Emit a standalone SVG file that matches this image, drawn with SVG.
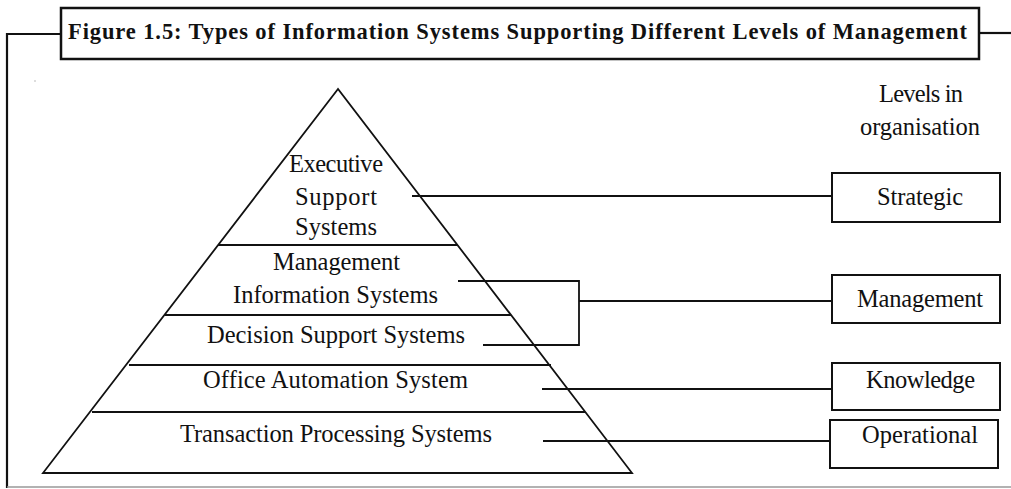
<svg xmlns="http://www.w3.org/2000/svg" width="1011" height="489" viewBox="0 0 1011 489">
<style>
.t{font-family:"Liberation Serif","Times New Roman",serif;font-size:24.5px;fill:#111}
.tb{font-family:"Liberation Serif","Times New Roman",serif;font-size:22.5px;font-weight:bold;fill:#111}
.ln{stroke:#111;stroke-width:1.8;fill:none}
.box{stroke:#111;stroke-width:2;fill:#fff}
.frame{stroke:#111;stroke-width:2.2;fill:none}
</style>
<rect width="1011" height="489" fill="#fff"/>
<g id="frame">
<polyline class="frame" points="61,34 7,34 7,488"/>
<line class="frame" x1="979" y1="33" x2="1011" y2="33"/>
<line x1="7" y1="487" x2="1011" y2="487" stroke="#999" stroke-width="1.5"/>
<rect x="34.5" y="80.5" width="1" height="1" fill="#777"/>
</g>
<g id="title">
<rect x="61" y="8" width="918" height="51" fill="#fff" stroke="#111" stroke-width="2.5"/>
<text class="tb" x="68" y="39" textLength="899" lengthAdjust="spacing">Figure 1.5: Types of Information Systems Supporting Different Levels of Management</text>
</g>
<g id="pyramid">
<polygon class="ln" points="338,89 43,473 632,473"/>
<line class="ln" x1="218" y1="245" x2="458" y2="245"/>
<line class="ln" x1="165" y1="315" x2="511" y2="315"/>
<line class="ln" x1="129" y1="365" x2="551" y2="365"/>
<line class="ln" x1="92" y1="412" x2="585" y2="412"/>
</g>
<g id="ess">
<text class="t" x="289" y="172" textLength="94" lengthAdjust="spacing">Executive</text>
<text class="t" x="295" y="205" textLength="82" lengthAdjust="spacing">Support</text>
<text class="t" x="295" y="235" textLength="82" lengthAdjust="spacing">Systems</text>
</g>
<g id="mis">
<text class="t" x="273" y="270" textLength="127" lengthAdjust="spacing">Management</text>
<text class="t" x="233" y="303" textLength="205" lengthAdjust="spacing">Information Systems</text>
</g>
<g id="dss">
<text class="t" x="207" y="343" textLength="258" lengthAdjust="spacing">Decision Support Systems</text>
</g>
<g id="oas">
<text class="t" x="203" y="388" textLength="265" lengthAdjust="spacing">Office Automation System</text>
</g>
<g id="tps">
<text class="t" x="180" y="442" textLength="312" lengthAdjust="spacing">Transaction Processing Systems</text>
</g>
<g id="levels-heading">
<text class="t" x="879" y="102" textLength="84" lengthAdjust="spacing">Levels in</text>
<text class="t" x="860" y="135" textLength="120" lengthAdjust="spacing">organisation</text>
</g>
<g id="strategic">
<rect class="box" x="832" y="173" width="168" height="49"/>
<text class="t" x="877" y="205" textLength="86" lengthAdjust="spacing">Strategic</text>
</g>
<g id="management">
<rect class="box" x="832" y="275" width="168" height="48"/>
<text class="t" x="857" y="307" textLength="126" lengthAdjust="spacing">Management</text>
</g>
<g id="knowledge">
<rect class="box" x="832" y="363" width="168" height="47"/>
<text class="t" x="866" y="388" textLength="109" lengthAdjust="spacing">Knowledge</text>
</g>
<g id="operational">
<rect class="box" x="830" y="420" width="168" height="48"/>
<text class="t" x="862" y="443" textLength="116" lengthAdjust="spacing">Operational</text>
</g>
<g id="connectors">
<line class="ln" x1="412" y1="196" x2="832" y2="196"/>
<polyline class="ln" points="458,281 579,281 579,345 483,345"/>
<line class="ln" x1="579" y1="301" x2="832" y2="301"/>
<line class="ln" x1="542" y1="389" x2="832" y2="389"/>
<line class="ln" x1="543" y1="441" x2="830" y2="441"/>
</g>
</svg>
